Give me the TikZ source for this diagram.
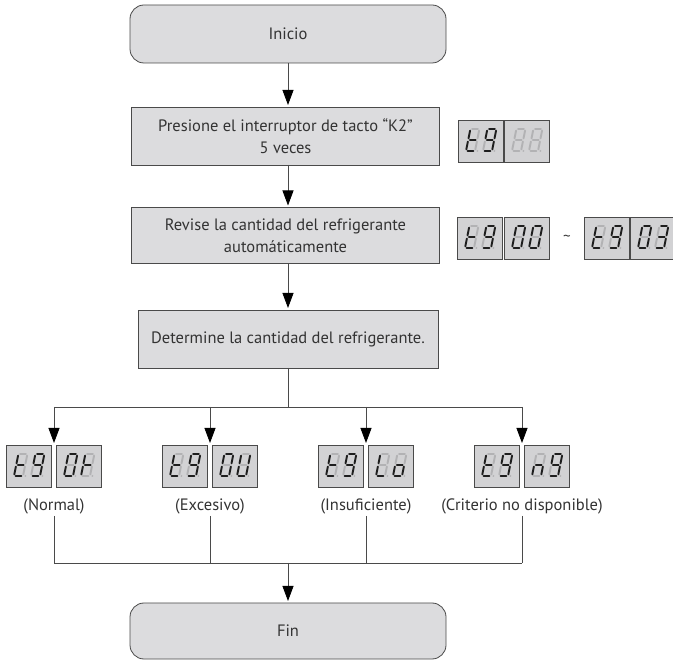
\documentclass[tikz,border=0pt]{standalone}
\usepackage{fontspec}
\setmainfont{PT Sans}
\usetikzlibrary{arrows.meta}
\definecolor{boxfill}{HTML}{DCDCDE}
\definecolor{dispfill}{HTML}{D2D2D4}
\definecolor{edge}{HTML}{4A4A4A}
\definecolor{txt}{HTML}{333333}
\definecolor{segon}{HTML}{1E1E1E}
\definecolor{segoff}{HTML}{B2B2B4}
\tikzset{
  flowbox/.style={draw=edge, fill=boxfill, line width=0.8pt, inner sep=0pt, outer sep=0pt,
    text=txt, align=center, font=\fontsize{16.5}{22}\selectfont},
  roundbox/.style={flowbox, rounded corners=14pt},
  dispbox/.style={draw=edge, fill=dispfill, line width=0.8pt, inner sep=0pt, outer sep=0pt,
    minimum width=45pt, minimum height=42pt, anchor=north west},
  lbl/.style={text=txt, font=\fontsize{16.5}{19}\selectfont, inner sep=2pt},
  conn/.style={draw=edge, line width=0.8pt},
  arr/.style={conn, -{Triangle[length=15pt,width=11pt,color=black,fill=black]}, shorten >=2pt},
  seglit/.style={draw=segon, line width=1.9pt, line cap=round},
  segdimm/.style={draw=segoff, line width=1.9pt, line cap=round},
}
% one segment: flag, from, to
\newcommand\sgm[3]{\ifnum#1=1 \draw[seglit] #2 -- #3;\else \draw[segdimm] #2 -- #3;\fi}
% digit: x, y (bottom-left), segments a b c d e f g
\newcommand\dig[9]{%
  \begin{scope}[shift={(#1,#2)}]
  \begin{scope}[x=1pt,y=1pt,xslant=0.2]
    \sgm{#3}{(1.6,22)}{(7.4,22)}%
    \sgm{#4}{(9,20.4)}{(9,12.6)}%
    \sgm{#5}{(9,9.4)}{(9,1.6)}%
    \sgm{#6}{(1.6,0)}{(7.4,0)}%
    \sgm{#7}{(0,9.4)}{(0,1.6)}%
    \sgm{#8}{(0,20.4)}{(0,12.6)}%
    \sgm{#9}{(1.6,11)}{(7.4,11)}%
    \fill[segoff] (11.4,0) circle (1pt);
  \end{scope}\end{scope}}
\newcommand\chT[2]{\dig{#1}{#2}{0}{0}{0}{1}{1}{1}{1}}
\newcommand\chNine[2]{\dig{#1}{#2}{1}{1}{1}{1}{0}{1}{1}}
\newcommand\chEight[2]{\dig{#1}{#2}{0}{0}{0}{0}{0}{0}{0}}
\newcommand\chZero[2]{\dig{#1}{#2}{1}{1}{1}{1}{1}{1}{0}}
\newcommand\chThree[2]{\dig{#1}{#2}{1}{1}{1}{1}{0}{0}{1}}
\newcommand\chK[2]{\dig{#1}{#2}{0}{0}{0}{0}{1}{1}{1}}
\newcommand\chU[2]{\dig{#1}{#2}{0}{1}{1}{1}{1}{1}{0}}
\newcommand\chL[2]{\dig{#1}{#2}{0}{0}{0}{1}{1}{1}{0}}
\newcommand\chO[2]{\dig{#1}{#2}{0}{0}{1}{1}{1}{0}{1}}
\newcommand\chN[2]{\dig{#1}{#2}{0}{0}{1}{0}{1}{0}{1}}
% display box: name, left, top, char1, char2
\newcommand\disp[5]{%
  \node[dispbox] (#1) at (#2,#3) {};
  #4{#2+8}{#3+31}
  #5{#2+25}{#3+31}}
\begin{document}
\begin{tikzpicture}[x=1pt,y=-1pt]
\useasboundingbox (0,0) rectangle (673,660);

% main flow
\node[roundbox, minimum width=316pt, minimum height=58pt] (inicio) at (288,34) {Inicio};
\node[flowbox, minimum width=308pt, minimum height=58pt] (b2) at (285.5,136)
  {Presione el interruptor de tacto “K2”\\5 veces};
\node[flowbox, minimum width=308pt, minimum height=56pt] (b3) at (285.5,235.5)
  {Revise la cantidad del refrigerante\\automáticamente};
\node[flowbox, minimum width=300pt, minimum height=58pt] (b4) at (288,339)
  {Determine la cantidad del refrigerante.};
\node[roundbox, minimum width=316pt, minimum height=56pt] (fin) at (288,631) {Fin};

\draw[arr] (inicio.south) -- (inicio.south |- b2.north);
\draw[arr] (inicio.south |- b2.south) -- (inicio.south |- b3.north);
\draw[arr] (inicio.south |- b3.south) -- (b4.north);

% displays beside steps
\disp{d1a}{458}{120}{\chT}{\chNine}
\disp{d1b}{504}{120}{\chEight}{\chEight}
\disp{d2a}{457}{217}{\chT}{\chNine}
\disp{d2b}{504}{217}{\chZero}{\chZero}
\node[text=txt, font=\fontsize{15}{17}\selectfont] (tilde) at (567,238) {\textasciitilde};
\disp{d3a}{584}{217}{\chT}{\chNine}
\disp{d3b}{630}{217}{\chZero}{\chThree}

% branching
\coordinate (s) at (288,407);
\coordinate (c1) at (54,445);
\coordinate (c2) at (210,445);
\coordinate (c3) at (366,445);
\coordinate (c4) at (522,445);
\draw[conn] (b4.south) -- (s);
\draw[conn] (c1 |- s) -- (c4 |- s);
\draw[arr] (c1 |- s) -- (c1);
\draw[arr] (c2 |- s) -- (c2);
\draw[arr] (c3 |- s) -- (c3);
\draw[arr] (c4 |- s) -- (c4);

\disp{r1a}{6}{445}{\chT}{\chNine}
\disp{r1b}{56}{445}{\chZero}{\chK}
\disp{r2a}{162}{445}{\chT}{\chNine}
\disp{r2b}{212}{445}{\chZero}{\chU}
\disp{r3a}{318}{445}{\chT}{\chNine}
\disp{r3b}{368}{445}{\chL}{\chO}
\disp{r4a}{474}{445}{\chT}{\chNine}
\disp{r4b}{524}{445}{\chN}{\chNine}

\node[lbl] (l1) at (54,506) {(Normal)};
\node[lbl] (l2) at (210,506) {(Excesivo)};
\node[lbl] (l3) at (366,506) {(Insuficiente)};
\node[lbl] (l4) at (522,506) {(Criterio no disponible)};

\coordinate (m) at (288,563);
\draw[conn] (l1.south) -- (l1.south |- m);
\draw[conn] (l2.south) -- (l2.south |- m);
\draw[conn] (l3.south) -- (l3.south |- m);
\draw[conn] (l4.south) -- (l4.south |- m);
\draw[conn] (l1.south |- m) -- (l4.south |- m);
\draw[arr] (m) -- (fin.north);
\end{tikzpicture}
\end{document}
